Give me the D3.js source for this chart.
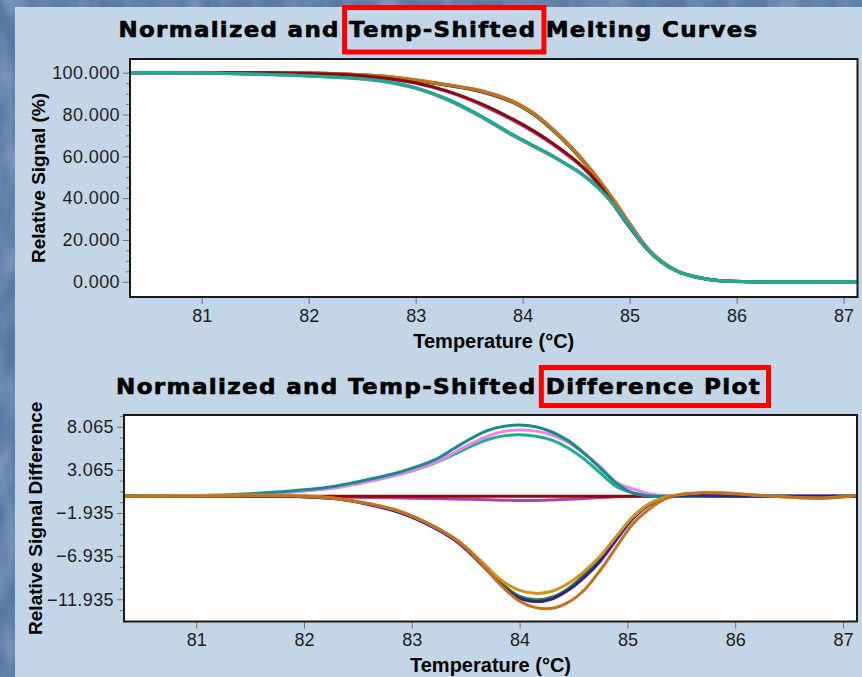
<!DOCTYPE html>
<html>
<head>
<meta charset="utf-8">
<script src="https://cdn.jsdelivr.net/npm/d3@7"></script>
<style>
  html, body { margin: 0; padding: 0; background: #5878a2; }
  svg { display: block; }
</style>
</head>
<body>
<svg id="chart" width="862" height="677"></svg>
<script>
// ---- Melting curves: temperature (°C) and relative signal (%) ----
const tMelt = [80.33, 81.0, 81.6, 82.0, 82.4, 82.7, 83.0, 83.3, 83.6, 83.9, 84.1, 84.25, 84.4, 84.55, 84.7, 84.85, 85.0, 85.15, 85.3, 85.45, 85.6, 85.75, 85.9, 86.2, 87.13];
const meltGreen  = [100, 100, 100, 99.8, 99.1, 98.2, 96.3, 93.9, 91.0, 85.9, 80.0, 73.8, 66.6, 58.4, 49.0, 38.7, 27.5, 16.9, 9.6, 4.9, 2.5, 1.1, 0.3, 0, 0];
const meltIndigo = [100, 100, 100, 99.8, 99.2, 98.3, 96.4, 94.0, 91.2, 86.1, 80.3, 74.1, 66.9, 58.7, 49.3, 39.0, 27.8, 17.1, 9.7, 5.0, 2.6, 1.1, 0.3, 0, 0];
const meltGold   = [100, 100, 100, 99.8, 99.2, 98.3, 96.5, 94.2, 91.4, 86.3, 80.5, 74.3, 67.0, 58.8, 49.4, 39.0, 27.7, 17.0, 9.7, 5.0, 2.6, 1.1, 0.3, 0, 0];
const meltOrange = [100, 100, 100, 99.8, 99.2, 98.4, 96.6, 94.3, 91.6, 86.6, 80.8, 74.6, 67.4, 59.2, 49.8, 39.4, 28.0, 17.2, 9.8, 5.0, 2.6, 1.1, 0.3, 0, 0];
const meltPurple = [100, 100, 100, 99.6, 98.8, 97.3, 94.9, 90.8, 84.9, 77.4, 71.6, 66.7, 61.2, 55.1, 47.1, 36.6, 25.9, 16.3, 9.3, 4.9, 2.5, 1.1, 0.3, 0, 0];
const meltMaroon = [100, 100, 100, 99.6, 98.9, 97.5, 95.2, 91.2, 85.4, 78.0, 72.3, 67.3, 61.8, 55.6, 47.6, 37.0, 26.2, 16.4, 9.4, 4.9, 2.5, 1.1, 0.3, 0, 0];
const meltViolet = [100, 99.8, 99.1, 98.4, 97.3, 95.7, 92.4, 86.8, 79.0, 70.0, 64.6, 60.6, 56.2, 51.4, 45.1, 36.9, 26.8, 16.8, 9.4, 4.9, 2.4, 1.0, 0.2, 0, 0];
const meltTeal   = [100, 99.8, 99.2, 98.5, 97.5, 96.0, 92.8, 87.3, 79.6, 70.6, 65.1, 61.1, 56.6, 51.8, 45.4, 37.0, 26.7, 16.6, 9.3, 4.8, 2.4, 1.0, 0.2, 0, 0];
const meltSea    = [100, 99.8, 99.1, 98.4, 97.4, 95.8, 92.6, 87.0, 79.3, 70.3, 64.8, 60.9, 56.4, 51.6, 45.2, 36.8, 26.5, 16.5, 9.2, 4.8, 2.4, 1.0, 0.2, 0, 0];

// ---- Difference plot: temperature (°C) and relative signal difference ----
const tDiff = [80.33, 81.0, 81.5, 82.0, 82.3, 82.6, 82.9, 83.2, 83.4, 83.55, 83.7, 83.85, 84.0, 84.15, 84.3, 84.45, 84.6, 84.75, 84.9, 85.05, 85.2, 85.35, 85.5, 85.7, 85.9, 86.3, 86.8, 87.13];
const diffMagenta = [0, 0, 0, -0.05, -0.1, -0.15, -0.2, -0.25, -0.3, -0.35, -0.4, -0.45, -0.5, -0.48, -0.42, -0.35, -0.25, -0.15, -0.05, 0, 0, 0, 0, 0, 0, 0, 0, 0];
const diffMaroon  = [0, 0, 0, 0, 0, 0, 0, 0, 0, 0, 0, 0, 0, 0, 0, 0, 0, 0, 0, 0, 0, 0, 0, 0, 0, 0, 0, 0];
const diffSea     = [0, 0, 0.2, 0.65, 1.05, 1.75, 2.6, 3.8, 4.9, 5.8, 6.55, 7.0, 7.12, 6.95, 6.5, 5.6, 4.3, 2.67, 1.11, 0.4, 0.1, 0, 0, 0, 0, 0, 0, 0];
const diffViolet  = [0, 0, 0.2, 0.6, 1.0, 1.7, 2.6, 3.85, 5.1, 6.1, 6.95, 7.5, 7.68, 7.55, 7.1, 6.25, 4.95, 3.43, 1.6, 0.85, 0.3, 0.05, 0, 0, 0, 0, 0, 0];
const diffTeal    = [0, 0.05, 0.3, 0.75, 1.2, 1.95, 2.85, 4.15, 5.6, 6.7, 7.6, 8.1, 8.26, 8.05, 7.45, 6.45, 4.98, 3.24, 1.5, 0.4, 0.05, 0, 0, 0, 0, 0, 0, 0];
const diffGreen   = [0, 0, 0.05, -0.05, -0.3, -0.9, -1.85, -3.5, -5.0, -6.5, -8.4, -10.3, -11.6, -12.0, -11.7, -10.7, -9.1, -7.2, -4.7, -2.4, -0.9, -0.15, 0.05, 0.05, 0, 0, 0, 0];
const diffIndigo  = [0, 0, 0.05, -0.05, -0.3, -0.95, -1.95, -3.6, -5.1, -6.7, -8.6, -10.5, -11.8, -12.2, -11.9, -10.9, -9.4, -7.5, -5.0, -2.6, -1.0, -0.2, 0.1, 0.1, 0.05, 0, 0, 0];
const diffGold    = [0, 0.1, 0.15, 0.05, -0.25, -0.85, -1.8, -3.45, -4.9, -6.4, -8.2, -9.9, -10.9, -11.25, -11.0, -10.1, -8.7, -6.9, -4.6, -2.4, -0.9, -0.1, 0.2, 0.45, 0.4, 0.05, -0.2, 0.1];
const diffBrown   = [0, 0, 0.05, 0, -0.25, -0.85, -1.78, -3.45, -4.95, -6.55, -8.55, -10.6, -12.15, -12.9, -12.98, -12.3, -10.86, -8.54, -5.84, -3.2, -1.5, -0.3, 0.25, 0.4, 0.35, 0.05, -0.25, 0.1];

// ---- Axis ticks ----
const xTicks = [81, 82, 83, 84, 85, 86, 87];
const yTicksMelt = [0, 20, 40, 60, 80, 100];
const yTicksDiff = [-11.935, -6.935, -1.935, 3.065, 8.065];

// ---- Titles ----
const titleMelt = ["Normalized and ", "Temp-Shifted", " Melting Curves"];
const titleDiff = ["Normalized and Temp-Shifted ", "Difference Plot", ""];

const colors = {
  orange: "#c4711f", gold: "#d4921a", green: "#1f8a1f", indigo: "#3a1aa0",
  maroon: "#8e0a0a", purple: "#b040b0", violet: "#f080f0", teal: "#138c8c", sea: "#1cae8c"
};

const meltSeries = [
  { v: meltGreen, c: colors.green }, { v: meltIndigo, c: colors.indigo },
  { v: meltGold, c: colors.gold }, { v: meltOrange, c: colors.orange },
  { v: meltPurple, c: colors.purple }, { v: meltMaroon, c: colors.maroon },
  { v: meltViolet, c: colors.violet }, { v: meltTeal, c: colors.teal }, { v: meltSea, c: colors.sea }
];
const diffSeries = [
  { v: diffMagenta, c: colors.purple }, { v: diffMaroon, c: colors.maroon },
  { v: diffSea, c: colors.sea }, { v: diffViolet, c: colors.violet }, { v: diffTeal, c: colors.teal },
  { v: diffGreen, c: colors.green }, { v: diffIndigo, c: colors.indigo },
  { v: diffGold, c: colors.gold }, { v: diffBrown, c: colors.orange }
];

const svg = d3.select("#chart");
const W = 862, H = 677;

// Backdrop: mottled slate blue with a pale blue sheet on top
const defs = svg.append("defs");
const f = defs.append("filter").attr("id", "mottle").attr("x", 0).attr("y", 0).attr("width", 1).attr("height", 1);
f.append("feTurbulence").attr("type", "fractalNoise").attr("baseFrequency", "0.035 0.02").attr("numOctaves", 3).attr("seed", 7);
f.append("feColorMatrix").attr("type", "matrix")
  .attr("values", "0 0 0 0 0.75  0 0 0 0 0.82  0 0 0 0 0.92  0 0 0 0.55 -0.18");
svg.append("rect").attr("width", W).attr("height", H).attr("fill", "#5878a2");
svg.append("rect").attr("width", W).attr("height", H).attr("filter", "url(#mottle)");
svg.append("rect").attr("x", 15).attr("y", 7).attr("width", W - 15).attr("height", H - 7).attr("fill", "#c3d6e7");

const tickFont = "'Liberation Sans', Arial, sans-serif";

function drawPanel(o) {
  const x = d3.scaleLinear().domain([80.33, 87.13]).range([o.left, o.right]);
  const y = d3.scaleLinear().domain(o.yDomain).range([o.bottom, o.top]);

  svg.append("rect")
    .attr("x", o.left).attr("y", o.top)
    .attr("width", o.right - o.left).attr("height", o.bottom - o.top)
    .attr("fill", "#ffffff");

  const clipId = "clip" + o.id;
  defs.append("clipPath").attr("id", clipId).append("rect")
    .attr("x", o.left + 1).attr("y", o.top + 1)
    .attr("width", o.right - o.left - 2).attr("height", o.bottom - o.top - 2);

  const line = d3.line()
    .x((d, i) => x(o.t[i]))
    .y(d => y(d))
    .curve(d3.curveCatmullRom.alpha(0.5));

  const g = svg.append("g").attr("clip-path", `url(#${clipId})`);
  g.selectAll("path").data(o.series).join("path")
    .attr("d", s => line(s.v))
    .attr("fill", "none")
    .attr("stroke", s => s.c)
    .attr("stroke-width", 3)
    .attr("stroke-linejoin", "round");

  // minor y ticks
  svg.append("g").attr("transform", `translate(${o.left},0)`)
    .call(d3.axisLeft(y).tickValues(o.yMinor).tickSize(4).tickFormat(""))
    .call(a => a.select(".domain").remove())
    .call(a => a.selectAll("line").attr("stroke", "#707070"));

  // major y ticks
  svg.append("g").attr("transform", `translate(${o.left},0)`)
    .call(d3.axisLeft(y).tickValues(o.yTicks).tickSize(7).tickPadding(3).tickFormat(d3.format(".3f")))
    .call(a => a.select(".domain").remove())
    .call(a => a.selectAll("line").attr("stroke", "#707070"))
    .call(a => a.selectAll("text")
      .attr("font-family", tickFont).attr("font-size", 18).attr("fill", "#1e1e1e")
      .attr("letter-spacing", "0.4px"));

  // x ticks
  svg.append("g").attr("transform", `translate(0,${o.bottom})`)
    .call(d3.axisBottom(x).tickValues(xTicks).tickSize(7).tickPadding(5).tickFormat(d3.format("d")))
    .call(a => a.select(".domain").remove())
    .call(a => a.selectAll("line").attr("stroke", "#707070"))
    .call(a => a.selectAll("text")
      .attr("font-family", tickFont).attr("font-size", 18).attr("fill", "#1e1e1e"));

  // frame
  svg.append("rect")
    .attr("x", o.left).attr("y", o.top)
    .attr("width", o.right - o.left).attr("height", o.bottom - o.top)
    .attr("fill", "none").attr("stroke", "#1a1a1a").attr("stroke-width", 2);

  // axis titles
  svg.append("text")
    .attr("x", (o.left + o.right) / 2).attr("y", o.xTitleY)
    .attr("text-anchor", "middle")
    .attr("font-family", tickFont).attr("font-weight", "bold").attr("font-size", 20)
    .attr("fill", "#000").text("Temperature (°C)");

  svg.append("text")
    .attr("transform", `translate(${o.yTitleX},${(o.top + o.bottom) / 2}) rotate(-90)`)
    .attr("text-anchor", "middle")
    .attr("font-family", tickFont).attr("font-weight", "bold").attr("font-size", 19)
    .attr("fill", "#000").text(o.yTitle);

  // chart title with a red frame round the highlighted words
  const parts = o.title;
  const full = parts.join("");
  const tt = svg.append("text")
    .attr("x", 438.5).attr("y", o.titleY)
    .attr("text-anchor", "middle")
    .attr("font-family", "'DejaVu Sans', Verdana, sans-serif")
    .attr("font-weight", "bold").attr("font-size", 21)
    .attr("letter-spacing", "1.2px")
    .attr("textLength", o.titleLen).attr("lengthAdjust", "spacingAndGlyphs")
    .attr("fill", "#000").attr("stroke", "#000").attr("stroke-width", 0.6)
    .text(full);
  const node = tt.node();
  const i0 = parts[0].length, i1 = i0 + parts[1].length - 1;
  const x0 = node.getStartPositionOfChar(i0).x;
  const x1 = node.getEndPositionOfChar(i1).x;
  svg.append("rect")
    .attr("x", x0 - 4.5).attr("y", o.boxTop)
    .attr("width", x1 - x0 + 12).attr("height", o.boxH)
    .attr("fill", "none").attr("stroke", "#ff0000").attr("stroke-width", 5);
}

drawPanel({
  id: "melt", left: 130, right: 857.5, top: 59, bottom: 297,
  t: tMelt, series: meltSeries,
  yDomain: [-7.3, 106.55], yTicks: yTicksMelt,
  yMinor: d3.range(0, 100.01, 5).filter(v => v % 20 !== 0),
  xTitleY: 347.5, yTitleX: 45, yTitle: "Relative Signal (%)",
  title: titleMelt, titleY: 37.3, titleLen: 640, boxTop: 7.5, boxH: 44.5
});

drawPanel({
  id: "diff", left: 124, right: 857, top: 415, bottom: 621.5,
  t: tDiff, series: diffSeries,
  yDomain: [-14.51, 9.42], yTicks: yTicksDiff,
  yMinor: d3.range(-13.185, 9.4, 1.25).filter(v => !yTicksDiff.some(t => Math.abs(t - v) < 1e-6)),
  xTitleY: 671.5, yTitleX: 41.7, yTitle: "Relative Signal Difference",
  title: titleDiff, titleY: 394.3, titleLen: 645, boxTop: 367.5, boxH: 38
});
</script>
</body>
</html>
